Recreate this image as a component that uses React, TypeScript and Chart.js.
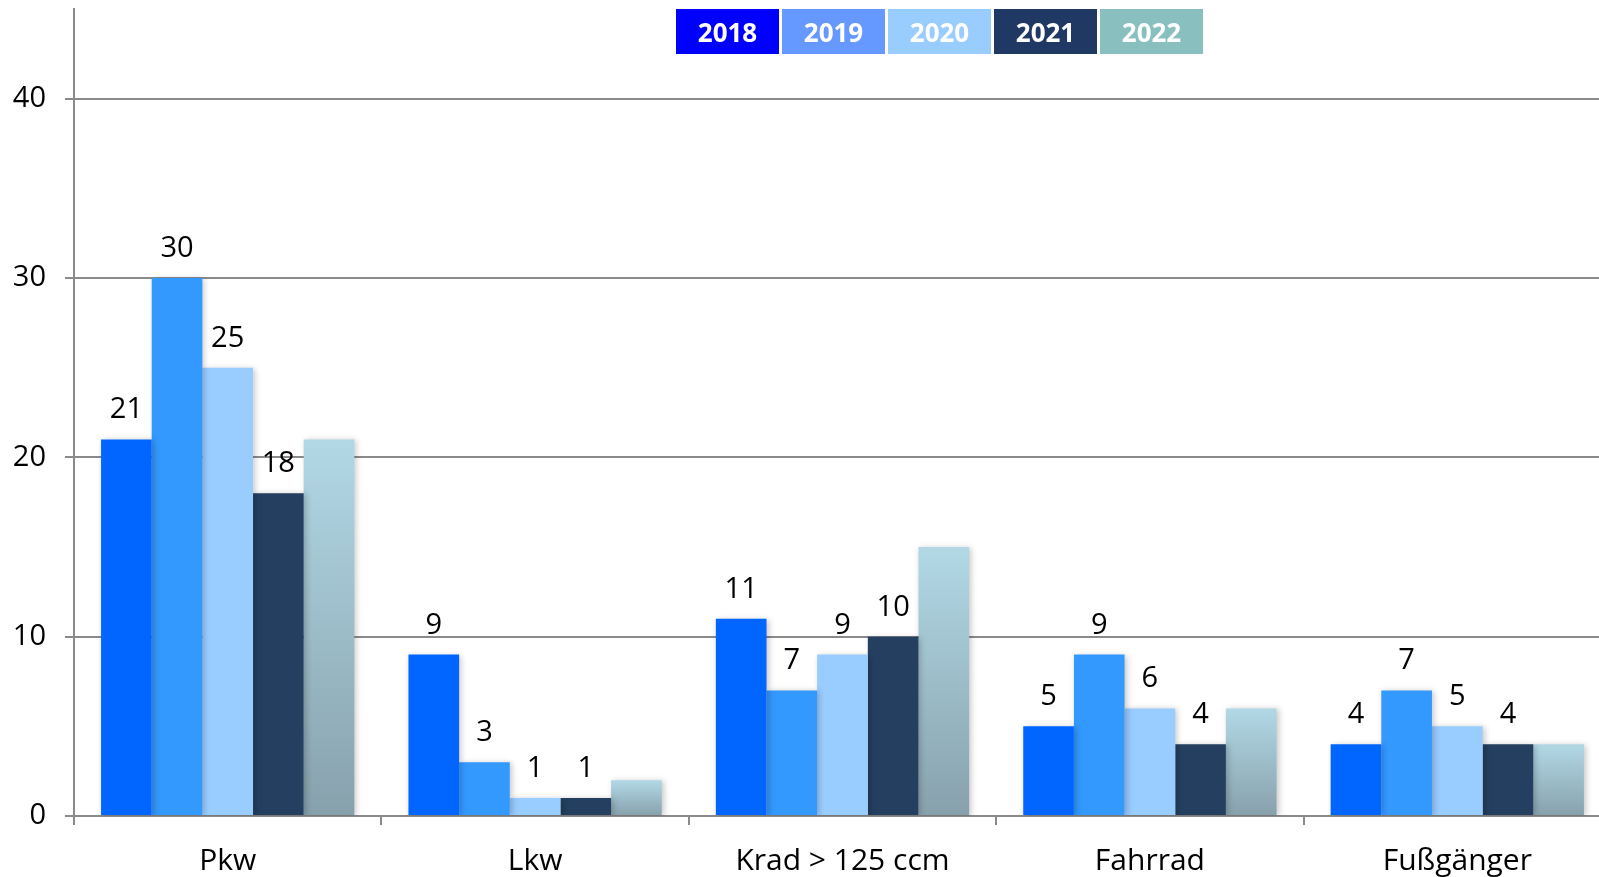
import React, { useEffect, useRef } from "react";
import { Chart, registerables } from "chart.js";

Chart.register(...registerables);

const categories = ["Pkw", "Lkw", "Krad > 125 ccm", "Fahrrad", "Fußgänger"];
const years = ["2018", "2019", "2020", "2021", "2022"];
const v2018 = [21, 9, 11, 5, 4];
const v2019 = [30, 3, 7, 9, 7];
const v2020 = [25, 1, 9, 6, 5];
const v2021 = [18, 1, 10, 4, 4];
const v2022 = [21, 2, 15, 6, 4];
const yTicks = [0, 10, 20, 30, 40];

const barColors = ["#0066FF", "#3399FF", "#99CCFF", "#253F60", "gradient"];
const legendColors = ["#0000FF", "#6699FF", "#99CCFF", "#203864", "#8ABFBF"];

const FONT = "'Open Sans', 'DejaVu Sans', sans-serif";
const GRID = "#8a8a8a";

const W = 1611;
const H = 877;

const shadowPlugin = {
  id: "barShadow",
  beforeDatasetDraw(chart: any) {
    const ctx = chart.ctx;
    ctx.save();
    ctx.shadowColor = "rgba(0,0,0,0.22)";
    ctx.shadowBlur = 6;
    ctx.shadowOffsetX = 2;
    ctx.shadowOffsetY = 1;
  },
  afterDatasetDraw(chart: any) {
    chart.ctx.restore();
  },
};

const labelPlugin = {
  id: "valueLabels",
  afterDatasetsDraw(chart: any) {
    const ctx = chart.ctx;
    ctx.save();
    ctx.font = `29px ${FONT}`;
    ctx.fillStyle = "#000";
    ctx.textAlign = "center";
    ctx.textBaseline = "alphabetic";
    chart.data.datasets.forEach((ds: any, di: number) => {
      if (di > 3) return;
      const meta = chart.getDatasetMeta(di);
      meta.data.forEach((bar: any, i: number) => {
        ctx.fillText(String(ds.data[i]), bar.x, bar.y - 21);
      });
    });
    ctx.restore();
  },
};

export default function App() {
  const ref = useRef<HTMLCanvasElement | null>(null);

  useEffect(() => {
    if (!ref.current) return;
    const series = [v2018, v2019, v2020, v2021, v2022];
    const gradientFill = (context: any) => {
      const chart = context.chart;
      const ys = chart.scales && chart.scales.y;
      if (!chart.chartArea || !ys || context.parsed == null) return "#9FBFCC";
      const top = ys.getPixelForValue(context.parsed.y);
      const bottom = ys.getPixelForValue(0);
      if (!isFinite(top) || !isFinite(bottom) || top === bottom) return "#9FBFCC";
      const g = chart.ctx.createLinearGradient(0, top, 0, bottom);
      g.addColorStop(0, "#B2D8E6");
      g.addColorStop(1, "#87A1AC");
      return g;
    };
    const chart = new Chart(ref.current, {
      type: "bar",
      data: {
        labels: categories,
        datasets: series.map((d, i) => ({
          label: years[i],
          data: d,
          backgroundColor: barColors[i] === "gradient" ? gradientFill : barColors[i],
          borderWidth: 0,
          categoryPercentage: 0.824,
          barPercentage: 1,
        })),
      },
      options: {
        animation: false,
        responsive: false,
        maintainAspectRatio: false,
        layout: { padding: { top: 9, right: 0, left: 0, bottom: 0 } },
        plugins: {
          legend: { display: false },
          tooltip: { enabled: false },
          title: { display: false },
        },
        scales: {
          x: {
            offset: true,
            grid: {
              offset: true,
              drawOnChartArea: false,
              drawTicks: true,
              tickLength: 9,
              color: GRID,
              lineWidth: 2,
            },
            border: { display: true, color: GRID, width: 2 },
            ticks: {
              color: "#000",
              font: { family: FONT, size: 30 },
              padding: 18,
              maxRotation: 0,
              autoSkip: false,
            },
            afterFit(scale: any) {
              scale.height = 61;
            },
          },
          y: {
            min: 0,
            max: 45,
            grid: {
              drawTicks: true,
              tickLength: 9,
              color: GRID,
              lineWidth: 2,
            },
            border: { display: true, color: GRID, width: 2 },
            ticks: {
              stepSize: 10,
              color: "#000",
              font: { family: FONT, size: 29 },
              padding: 19,
            },
            afterBuildTicks(scale: any) {
              scale.ticks = yTicks.map((v) => ({ value: v }));
            },
            afterFit(scale: any) {
              scale.width = 74;
              scale.paddingTop = 0;
              scale.paddingBottom = 0;
            },
          },
        },
      },
      plugins: [shadowPlugin, labelPlugin],
    });
    return () => chart.destroy();
  }, []);

  return (
    <div
      style={{
        position: "fixed",
        left: 0,
        top: 0,
        width: 1599,
        height: 877,
        overflow: "hidden",
        background: "#fff",
      }}
    >
      <canvas ref={ref} width={W} height={H} style={{ width: W, height: H, display: "block" }} />
      <div style={{ position: "absolute", left: 676, top: 9, display: "flex", gap: 3 }}>
        {years.map((y, i) => (
          <div
            key={y}
            style={{
              width: 103,
              height: 45,
              background: legendColors[i],
              color: "#fff",
              fontFamily: FONT,
              fontWeight: 700,
              fontSize: 26,
              display: "flex",
              alignItems: "center",
              justifyContent: "center",
            }}
          >
            {y}
          </div>
        ))}
      </div>
    </div>
  );
}
